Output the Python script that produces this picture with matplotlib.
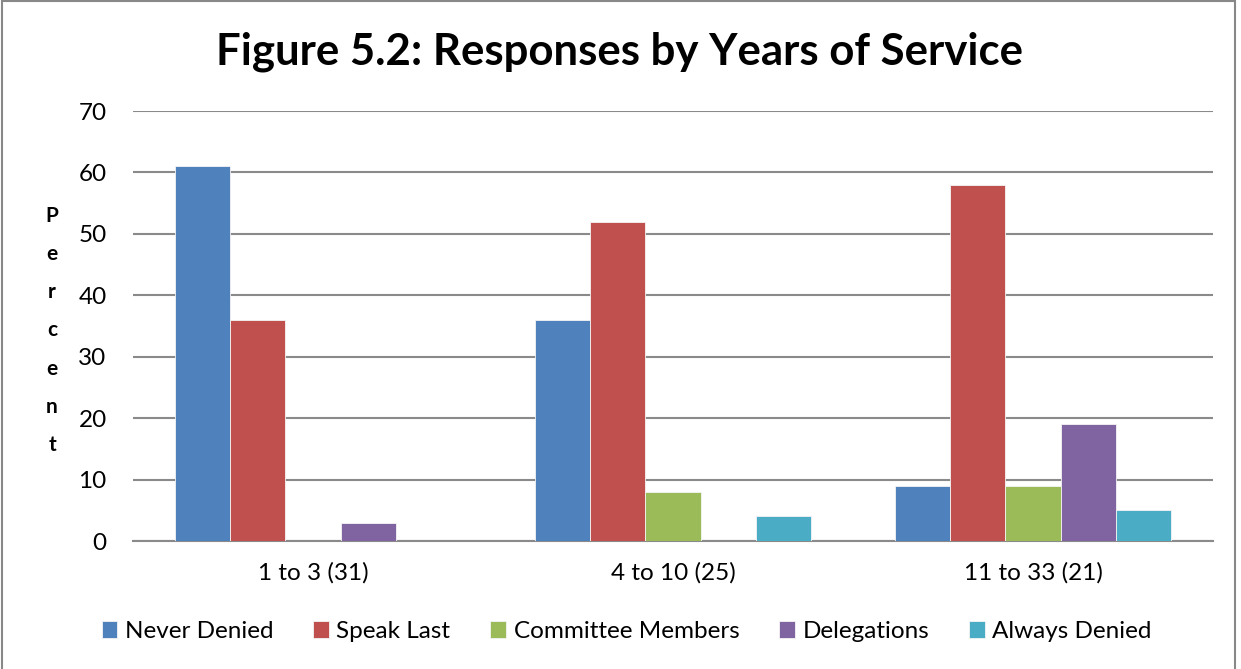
import matplotlib.pyplot as plt
import numpy as np
from matplotlib.patches import Rectangle

plt.rcParams['font.family'] = ['Lato', 'DejaVu Sans']

categories = ['1 to 3 (31)', '4 to 10 (25)', '11 to 33 (21)']
series_names = ['Never Denied', 'Speak Last', 'Committee Members', 'Delegations', 'Always Denied']
never_denied = [61, 36, 9]
speak_last = [36, 52, 58]
committee_members = [0, 8, 9]
delegations = [3, 0, 19]
always_denied = [0, 4, 5]
colors = ['#4F81BD', '#C0504D', '#9BBB59', '#8064A2', '#4BACC6']

values = [never_denied, speak_last, committee_members, delegations, always_denied]

fig = plt.figure(figsize=(12.41, 6.69), dpi=100)
ax = fig.add_axes([0.1072, 0.1913, 0.8702, 0.6427])

x = np.arange(len(categories))
width = 0.153
offsets = (np.arange(len(series_names)) - 2) * width
for vals, name, color, off in zip(values, series_names, colors, offsets):
    ax.bar(x + off, vals, width, color=color, label=name,
           edgecolor='#f4f4f4', linewidth=0.6, zorder=3)

ax.set_xlim(-0.5, len(categories) - 0.5)
ax.set_ylim(0, 70)
ax.set_yticks(range(0, 71, 10))
ax.set_xticks(x)
ax.set_xticklabels(categories)
ax.tick_params(axis='both', length=0, labelsize=17.5, colors='black')
ax.tick_params(axis='y', pad=19)
ax.tick_params(axis='x', pad=15)
ax.grid(axis='y', color='#8a8a8a', linewidth=1.5, zorder=0)
for side in ['top', 'right', 'left']:
    ax.spines[side].set_visible(False)
ax.spines['bottom'].set_color('#8a8a8a')
ax.spines['bottom'].set_linewidth(1.5)

fig.text(0.499, 0.923, 'Figure 5.2: Responses by Years of Service',
         ha='center', va='center', fontsize=31.5, fontweight='bold')

# vertical stacked axis label
fig.text(0.042, 0.506, '\n'.join('Percent'), ha='center', va='center',
         fontsize=15, fontweight='bold', linespacing=2.13)

fig.legend(loc='center', bbox_to_anchor=(0.505, 0.056), ncol=5, frameon=False,
           fontsize=17.5, handlelength=0.65, handleheight=0.65, handletextpad=0.3,
           columnspacing=1.65)

# outer chart border
fig.patches.append(Rectangle((2 / 1241, -0.02), 1233 / 1241, 1.02 - 1.5 / 669,
                             transform=fig.transFigure, fill=False,
                             edgecolor='#888888', linewidth=1.5))

fig.savefig('out.png', dpi=100)
